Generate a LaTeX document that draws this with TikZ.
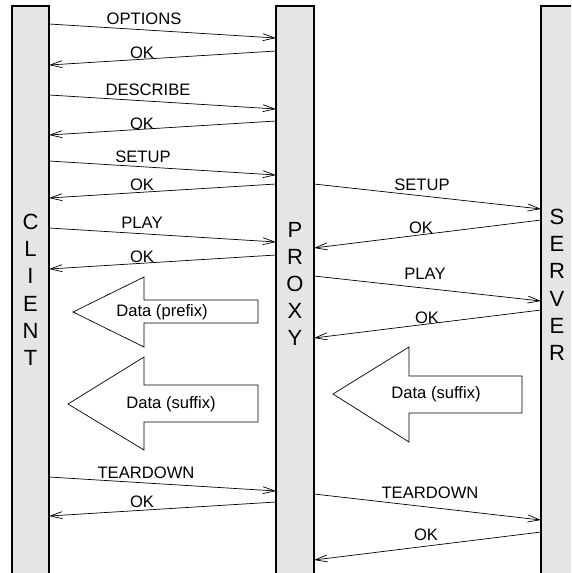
\documentclass[tikz,border=0pt]{standalone}
\usepackage{fontspec}
\setmainfont{Liberation Sans}
\usetikzlibrary{arrows.meta}
\begin{document}
\begin{tikzpicture}[x=1pt,y=-1pt,
  bar/.style={draw=black,line width=1.3pt,fill=black!10},
  msg/.style={line width=0.7pt,-{Straight Barb[length=12pt,width=7pt,line width=0.7pt]}},
  lbl/.style={font=\fontsize{16.6}{18}\selectfont,inner sep=0pt},
  big/.style={font=\fontsize{22}{27}\selectfont,inner sep=0pt},
  data/.style={draw=black,line width=0.7pt,fill=white}]
\useasboundingbox (0,0) rectangle (571,573);
\begin{scope}
\clip (0,0) rectangle (571,573);
% bars
\draw[bar] (12,6) rectangle (49,600);
\draw[bar] (276,6) rectangle (314,600);
\draw[bar] (541,6) rectangle (600,600);
\end{scope}
% bar labels
\foreach \c [count=\i] in {C,L,I,E,N,T} \node[big] (cl\i) at (30.5,{222+(\i-1)*27.2}) {\c};
\foreach \c [count=\i] in {P,R,O,X,Y} \node[big] (px\i) at (295,{230+(\i-1)*27}) {\c};
\foreach \c [count=\i] in {S,E,R,V,E,R} \node[big] (sv\i) at (557,{217+(\i-1)*27.2}) {\c};
% coordinates client<->proxy
\foreach \n/\a/\b in {1/24/38, 3/95/109, 5/161/175, 7/228/242, 9/477/491}{
  \coordinate (cs\n) at (49,\a); \coordinate (pe\n) at (276,\b);}
\foreach \n/\a/\b in {2/51/65, 4/121/135, 6/184/198, 8/255/269, 10/502/516}{
  \coordinate (ps\n) at (276,\a); \coordinate (ce\n) at (49,\b);}
\draw[msg] (cs1) -- (pe1); \node[lbl] (l1) at (144,19) {OPTIONS};
\draw[msg] (ps2) -- (ce2); \node[lbl] (l2) at (142,53) {OK};
\draw[msg] (cs3) -- (pe3); \node[lbl] (l3) at (148,90) {DESCRIBE};
\draw[msg] (ps4) -- (ce4); \node[lbl] (l4) at (142,124) {OK};
\draw[msg] (cs5) -- (pe5); \node[lbl] (l5) at (143,157) {SETUP};
\draw[msg] (ps6) -- (ce6); \node[lbl] (l6) at (142,185) {OK};
\draw[msg] (cs7) -- (pe7); \node[lbl] (l7) at (142,223) {PLAY};
\draw[msg] (ps8) -- (ce8); \node[lbl] (l8) at (142,257) {OK};
\draw[msg] (cs9) -- (pe9); \node[lbl] (l9) at (146,473) {TEARDOWN};
\draw[msg] (ps10) -- (ce10); \node[lbl] (l10) at (142,502) {OK};
% proxy<->server
\foreach \n/\a/\b in {1/184/209, 3/276/301, 5/494/520}{
  \coordinate (qs\n) at (314,\a); \coordinate (se\n) at (541,\b);}
\foreach \n/\a/\b in {2/220/248, 4/310/338, 6/532/560}{
  \coordinate (ss\n) at (541,\a); \coordinate (qe\n) at (314,\b);}
\draw[msg] (qs1) -- (se1); \node[lbl] (m1) at (422,185) {SETUP};
\draw[msg] (ss2) -- (qe2); \node[lbl] (m2) at (421,228) {OK};
\draw[msg] (qs3) -- (se3); \node[lbl] (m3) at (425,274) {PLAY};
\draw[msg] (ss4) -- (qe4); \node[lbl] (m4) at (427,318) {OK};
\draw[msg] (qs5) -- (se5); \node[lbl] (m5) at (430,493) {TEARDOWN};
\draw[msg] (ss6) -- (qe6); \node[lbl] (m6) at (426,535) {OK};
% data arrows
\draw[data] (73,312) -- (144,277) -- (144,300) -- (258,300) -- (258,323) -- (144,323) -- (144,347) -- cycle;
\node[lbl] (d1) at (162,312) {Data (prefix)};
\draw[data] (68,404) -- (144,357) -- (144,385) -- (258,385) -- (258,422) -- (144,422) -- (144,450) -- cycle;
\node[lbl] (d2) at (171,404) {Data (suffix)};
\draw[data] (333,394) -- (409,347) -- (409,376) -- (522,376) -- (522,413) -- (409,413) -- (409,442) -- cycle;
\node[lbl] (d3) at (436,394) {Data (suffix)};
\end{tikzpicture}
\end{document}
